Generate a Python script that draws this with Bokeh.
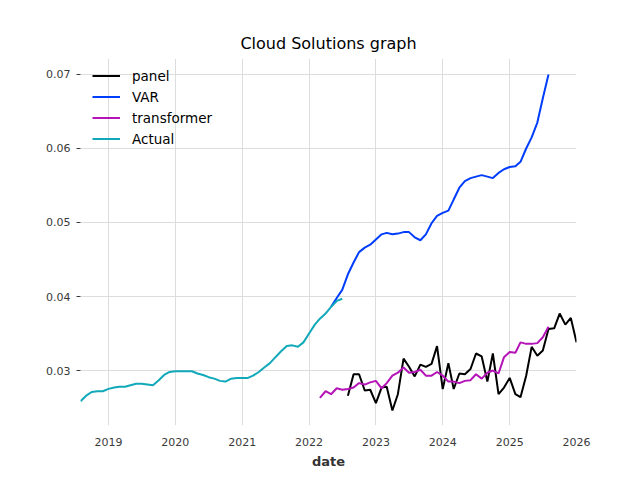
import pandas as pd
from bokeh.plotting import figure
from bokeh.models import (Range1d, FixedTicker, DatetimeTickFormatter, PrintfTickFormatter,
                          Legend, LegendItem)
from bokeh.embed import file_html
from bokeh.resources import INLINE

# ---------------- data ----------------
actual_start = "2018-08-01"
actual_values = [0.02585, 0.0266, 0.0271, 0.0272, 0.0272, 0.02752, 0.0277, 0.0278, 0.0278, 0.0280, 0.0282, 0.0282,
                 0.0281, 0.0280, 0.02865, 0.0294, 0.0298, 0.0299, 0.0299, 0.0299, 0.0299, 0.0296, 0.0294, 0.0291,
                 0.0289, 0.0286, 0.0285, 0.0289, 0.0290, 0.0290, 0.0290, 0.0293, 0.0298, 0.0304, 0.0310, 0.0318,
                 0.0326, 0.0333, 0.0334, 0.0332, 0.0338, 0.0350, 0.0362, 0.0370, 0.0377, 0.0386, 0.0394, 0.0397]

var_start = "2022-05-01"
var_values = [0.0386, 0.0398, 0.0409, 0.0430, 0.0446, 0.0460, 0.0466, 0.0470,
              0.0477, 0.0484, 0.0486, 0.0484, 0.0485, 0.0487, 0.0487, 0.0480, 0.0476, 0.0484, 0.0499, 0.0509,
              0.0513, 0.0516, 0.0531, 0.0547, 0.0556, 0.0560, 0.0562, 0.0564, 0.0562, 0.0560, 0.0567, 0.0572,
              0.0575, 0.0576, 0.0582, 0.0600, 0.0615, 0.0635, 0.0668, 0.0700]

transformer_start = "2022-03-01"
transformer_values = [0.0263, 0.0272, 0.0268, 0.0276, 0.0274, 0.0275, 0.0277, 0.0283, 0.0281, 0.0284,
                      0.0286, 0.0276, 0.0283, 0.0293, 0.0297, 0.0304, 0.0297, 0.0298, 0.0301, 0.0293, 0.0293, 0.0298,
                      0.0293, 0.0285, 0.0285, 0.0283, 0.0286, 0.0287, 0.0295, 0.0289, 0.0297, 0.0300, 0.0296, 0.0318,
                      0.0325, 0.0324, 0.0338, 0.0336, 0.0336, 0.0337, 0.0345, 0.0359]

panel_start = "2022-08-01"
panel_values = [0.0266, 0.0295, 0.0295, 0.0273, 0.0274,
                0.0256, 0.0277, 0.0278, 0.0246, 0.0268, 0.0316, 0.0305, 0.0292, 0.0308, 0.0305, 0.0309, 0.0333,
                0.0275, 0.0310, 0.0275, 0.0296, 0.0295, 0.0302, 0.0323, 0.0319, 0.0285, 0.0323, 0.0268, 0.0277,
                0.0290, 0.0268, 0.0264, 0.0293, 0.0332, 0.0320, 0.0327, 0.0356, 0.0357, 0.0377, 0.0362, 0.0371,
                0.0338]

year_ticks = [2019, 2020, 2021, 2022, 2023, 2024, 2025, 2026]
y_ticks = [0.03, 0.04, 0.05, 0.06, 0.07]

series_names = ["panel", "VAR", "transformer", "Actual"]
series_colors = ["#000000", "#003DFD", "#b512b8", "#11a9ba"]


def monthly(start, values):
    return pd.date_range(start, periods=len(values), freq="MS")


actual_dates = monthly(actual_start, actual_values)
var_dates = monthly(var_start, var_values)
transformer_dates = monthly(transformer_start, transformer_values)
panel_dates = monthly(panel_start, panel_values)

# ---------------- figure ----------------
FONT = "DejaVu Sans"

p = figure(width=636, height=476, x_axis_type="datetime",
           output_backend="svg", toolbar_location=None,
           min_border_left=80, min_border_right=60, min_border_top=58, min_border_bottom=51,
           title="Cloud Solutions graph")

p.x_range = Range1d(actual_dates[0], panel_dates[-1])
p.y_range = Range1d(0.02257, 0.07216)

p.outline_line_color = None
p.background_fill_color = "white"
p.border_fill_color = "white"

p.title.align = "center"
p.title.text_font = FONT
p.title.text_font_size = "16px"
p.title.text_font_style = "normal"
p.title.text_color = "#000000"
p.title.standoff = 11

# grid
for g in (p.xgrid, p.ygrid):
    g.grid_line_color = "#dddddd"
    g.grid_line_width = 1

# x axis
xa = p.xaxis[0]
xa.ticker = FixedTicker(ticks=[pd.Timestamp(f"{y}-01-01").timestamp() * 1000 for y in year_ticks])
xa.formatter = DatetimeTickFormatter(years="%Y", months="%Y", days="%Y", hours="%Y",
                                     minutes="%Y", seconds="%Y", milliseconds="%Y", microseconds="%Y")
xa.axis_line_color = None
xa.major_tick_line_color = None
xa.minor_tick_line_color = None
xa.major_tick_out = 0
xa.major_label_standoff = 12
xa.major_label_text_font = FONT
xa.major_label_text_font_size = "11px"
xa.major_label_text_color = "#3a3a3a"
xa.axis_label = "date"
xa.axis_label_text_font = FONT
xa.axis_label_text_font_size = "13px"
xa.axis_label_text_font_style = "bold"
xa.axis_label_text_color = "#333333"
xa.axis_label_standoff = 5

# y axis
ya = p.yaxis[0]
ya.ticker = FixedTicker(ticks=y_ticks)
ya.formatter = PrintfTickFormatter(format="%.2f")
ya.axis_line_color = None
ya.major_tick_line_color = "#3a3a3a"
ya.major_tick_out = 4
ya.major_tick_in = 0
ya.minor_tick_line_color = None
ya.major_label_standoff = 6
ya.major_label_text_font = FONT
ya.major_label_text_font_size = "11px"
ya.major_label_text_color = "#3a3a3a"

# lines
all_dates = [panel_dates, var_dates, transformer_dates, actual_dates]
all_values = [panel_values, var_values, transformer_values, actual_values]
items = []
for name, color, d, v in zip(series_names, series_colors, all_dates, all_values):
    r = p.line(d, v, line_color=color, line_width=2)
    items.append(LegendItem(label=name, renderers=[r]))

legend = Legend(items=items, location=(12, 276), margin=0, padding=0, spacing=0,
                glyph_width=28, glyph_height=21, label_height=21, label_standoff=12,
                label_text_font=FONT, label_text_font_size="13.5px", label_text_color="#000000",
                border_line_color=None, background_fill_alpha=0)
p.add_layout(legend)

open("out.html", "w").write(file_html(p, INLINE))
